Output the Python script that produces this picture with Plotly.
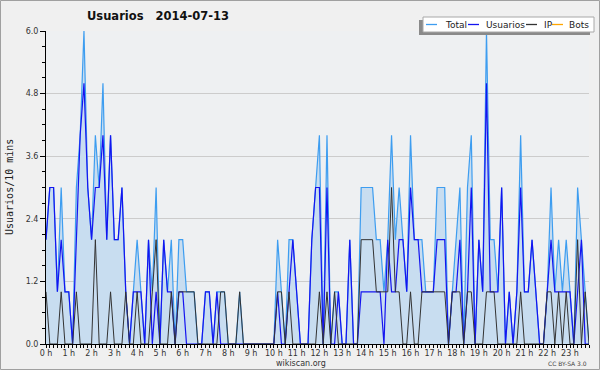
import plotly.graph_objects as go

# ---- data (10-minute slots over one day) ----
hours = list(range(24))
hour_labels = [f"{h} h" for h in hours]
series_names = ["Total", "Usuarios", "IP", "Bots"]

total = [2, 3, 3, 1, 3, 1, 1, 0, 3, 4,
         6, 3, 2, 4, 3, 5, 2, 4, 2, 2,
         3, 1, 0, 1, 2, 1, 0, 2, 1, 3,
         0, 2, 1, 2, 0, 2, 2, 1, 1, 1,
         0, 0, 1, 1, 0, 1, 1, 1, 0, 0,
         0, 1, 0, 0, 0, 0, 0, 0, 0, 0,
         0, 2, 1, 0, 2, 2, 1, 0, 0, 0,
         2, 3, 4, 0, 4, 0, 1, 1, 0, 0,
         2, 0, 0, 3, 3, 3, 3, 2, 2, 1,
         2, 4, 2, 3, 2, 1, 4, 2, 2, 2,
         1, 1, 1, 3, 3, 3, 0, 1, 2, 3,
         0, 3, 4, 0, 2, 1, 6, 2, 2, 1,
         3, 0, 1, 0, 1, 4, 1, 1, 2, 1,
         0, 0, 1, 3, 1, 2, 1, 2, 1, 0,
         3, 2, 1, 0]

usuarios = [2, 3, 3, 1, 2, 1, 1, 0, 2, 4,
            5, 3, 2, 3, 3, 4, 2, 4, 2, 2,
            3, 1, 0, 1, 1, 1, 0, 2, 0, 1,
            0, 2, 1, 1, 0, 1, 1, 0, 0, 0,
            0, 0, 1, 1, 0, 1, 0, 0, 0, 0,
            0, 0, 0, 0, 0, 0, 0, 0, 0, 0,
            0, 1, 0, 0, 1, 2, 1, 0, 0, 0,
            2, 3, 3, 0, 3, 0, 0, 1, 0, 0,
            2, 0, 0, 1, 1, 1, 1, 1, 1, 0,
            2, 1, 1, 2, 2, 1, 3, 2, 2, 1,
            1, 1, 1, 2, 2, 2, 0, 1, 1, 2,
            0, 1, 3, 0, 2, 1, 5, 1, 1, 1,
            3, 0, 1, 0, 1, 3, 1, 1, 2, 1,
            0, 0, 1, 2, 1, 1, 1, 1, 1, 0,
            1, 2, 0, 0]

ip = [1, 0, 0, 0, 1, 0, 0, 0, 1, 0,
      0, 0, 0, 2, 0, 0, 0, 1, 0, 0,
      0, 1, 0, 0, 1, 0, 0, 0, 1, 2,
      0, 0, 0, 1, 0, 1, 1, 1, 1, 1,
      0, 0, 0, 0, 0, 0, 1, 1, 0, 0,
      0, 1, 0, 0, 0, 0, 0, 0, 0, 0,
      0, 1, 1, 0, 1, 0, 0, 0, 0, 0,
      0, 0, 1, 0, 1, 0, 1, 0, 0, 0,
      0, 0, 0, 2, 2, 2, 2, 1, 1, 1,
      1, 3, 1, 1, 0, 0, 1, 0, 0, 1,
      1, 1, 1, 1, 1, 1, 0, 1, 1, 1,
      0, 1, 1, 0, 0, 0, 1, 1, 1, 0,
      0, 0, 0, 0, 0, 1, 0, 0, 0, 0,
      0, 0, 1, 1, 0, 1, 0, 1, 0, 0,
      2, 0, 1, 0]

bots = [0] * 144

slots = [i / 6 for i in range(len(total))]  # time in hours

# ---- styling ----
C_TOTAL = "#3d9df0"
C_FILL = "#c8ddf0"
C_USU = "#1414f0"
C_IP = "#333333"
C_BOTS = "#ffa500"
colors = [C_TOTAL, C_USU, C_IP, C_BOTS]

W_FIG, H_FIG = 600, 370
ML, MR, MT, MB = 46, 11, 31, 26
PW = W_FIG - ML - MR
PH = H_FIG - MT - MB


def px(x):
    return (x - ML) / PW


def py(y):
    return (H_FIG - MB - y) / PH


fig = go.Figure()
fig.add_trace(go.Scatter(x=slots, y=bots, mode="lines", name="Bots",
                         line=dict(color=C_BOTS, width=1), showlegend=False))
fig.add_trace(go.Scatter(x=slots, y=total, mode="lines", name="Total",
                         line=dict(color=C_TOTAL, width=1.2),
                         fill="tozeroy", fillcolor=C_FILL, showlegend=False))
fig.add_trace(go.Scatter(x=slots, y=usuarios, mode="lines", name="Usuarios",
                         line=dict(color=C_USU, width=1.2), showlegend=False))
fig.add_trace(go.Scatter(x=slots, y=ip, mode="lines", name="IP",
                         line=dict(color=C_IP, width=1), showlegend=False))

shapes = []
annotations = []

# outer border
shapes.append(dict(type="rect", xref="paper", yref="paper",
                   x0=px(0.5), x1=px(599.5), y0=py(369.5), y1=py(0.5),
                   line=dict(color="#a0a0a0", width=1), layer="below"))

# legend box with shadow
shapes.append(dict(type="rect", xref="paper", yref="paper",
                   x0=px(419), x1=px(590), y0=py(35), y1=py(20),
                   fillcolor="#8a8a8a", line=dict(width=0), layer="above"))
shapes.append(dict(type="rect", xref="paper", yref="paper",
                   x0=px(423), x1=px(594), y0=py(32), y1=py(17),
                   fillcolor="#ffffff", line=dict(color="#a8a8a8", width=1), layer="above"))
sw_x = [426, 468, 526, 552]
tx_x = [443, 484, 542, 567]
for name, col, sx, tx in zip(series_names, colors, sw_x, tx_x):
    shapes.append(dict(type="line", xref="paper", yref="paper",
                       x0=px(sx), x1=px(sx + 11), y0=py(24.5), y1=py(24.5),
                       line=dict(color=col, width=1.3), layer="above"))
    annotations.append(dict(text=name, xref="paper", yref="paper",
                            x=px(tx), y=py(24.5), xanchor="left", yanchor="middle",
                            showarrow=False,
                            font=dict(family="DejaVu Sans", size=9, color="#222222")))

# title
annotations.append(dict(text="<b>Usuarios\u00a0\u00a0 2014-07-13</b>", xref="paper", yref="paper",
                        x=px(85), y=py(16.5), xanchor="left", yanchor="middle",
                        showarrow=False,
                        font=dict(family="DejaVu Sans", size=11.5, color="#111111")))
# y-axis title
annotations.append(dict(text="Usuarios/10 mins", xref="paper", yref="paper",
                        x=px(9), y=py(187), xanchor="center", yanchor="middle",
                        textangle=-90, showarrow=False,
                        font=dict(family="DejaVu Sans Mono", size=10, color="#222222")))
# footer
annotations.append(dict(text="wikiscan.org", xref="paper", yref="paper",
                        x=px(300.5), y=py(363), xanchor="center", yanchor="middle",
                        showarrow=False,
                        font=dict(family="DejaVu Sans", size=8, color="#333333")))
annotations.append(dict(text="CC BY-SA 3.0", xref="paper", yref="paper",
                        x=px(589), y=py(363.5), xanchor="right", yanchor="middle",
                        showarrow=False,
                        font=dict(family="DejaVu Sans", size=6, color="#444444")))

fig.update_layout(
    width=W_FIG, height=H_FIG,
    margin=dict(l=ML, r=MR, t=MT, b=MB, pad=0),
    paper_bgcolor="#f0f0f0",
    plot_bgcolor="#eef0f2",
    showlegend=False,
    shapes=shapes,
    annotations=annotations,
    xaxis=dict(
        range=[0, slots[-1]],
        tickmode="array", tickvals=hours, ticktext=hour_labels,
        ticks="outside", ticklen=3, tickcolor="#000000", tickwidth=1,
        ticklabelstandoff=-2,
        showline=True, linecolor="#000000", linewidth=1,
        showgrid=False, zeroline=False,
        tickfont=dict(family="DejaVu Sans", size=8, color="#333333"),
        minor=dict(dtick=1 / 6, tick0=0, ticks="outside", ticklen=3,
                   tickcolor="#000000", showgrid=False),
    ),
    yaxis=dict(
        range=[0, 6],
        tickmode="linear", tick0=0, dtick=1.2, tickformat=".1f",
        ticks="outside", ticklen=5, tickcolor="#000000", tickwidth=1,
        showline=True, linecolor="#000000", linewidth=1,
        showgrid=True, gridcolor="#cccccc", gridwidth=1,
        zeroline=False,
        tickfont=dict(family="DejaVu Sans", size=8, color="#333333"),
        minor=dict(dtick=0.3, tick0=0, ticks="outside", ticklen=3,
                   tickcolor="#000000", showgrid=False),
    ),
)

fig.write_html("out.html",
               config={"displayModeBar": False},
               post_script="document.body.style.margin='0';document.body.style.overflow='hidden';")
